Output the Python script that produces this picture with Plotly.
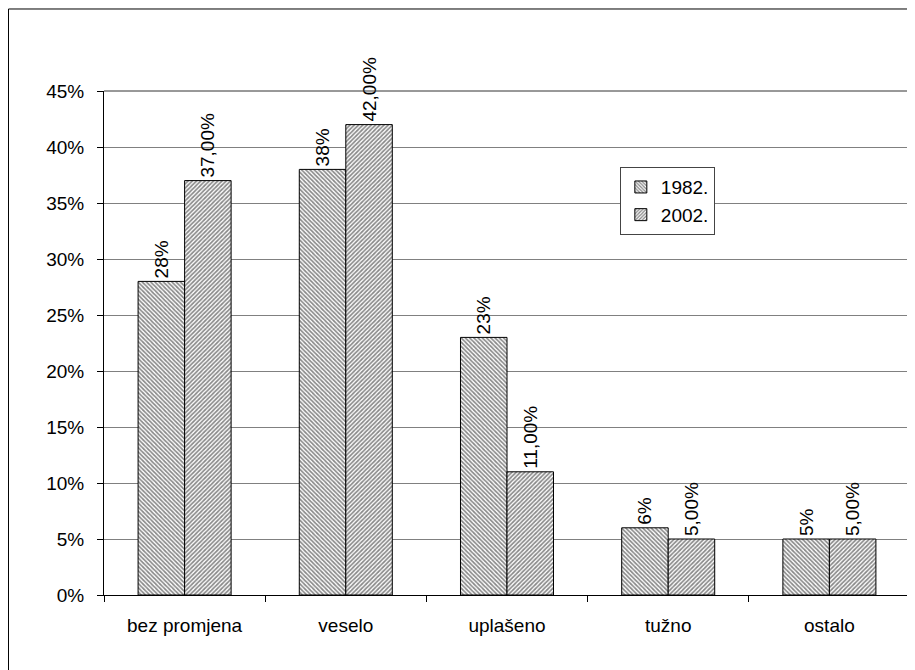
import plotly.graph_objects as go

categories = ["bez promjena", "veselo", "uplašeno", "tužno", "ostalo"]
series_names = ["1982.", "2002."]
values_1982 = [28, 38, 23, 6, 5]
values_2002 = [37, 42, 11, 5, 5]
labels_1982 = [f"{v}%" for v in values_1982]
labels_2002 = [f"{v:.2f}%".replace(".", ",") for v in values_2002]
y_ticks = list(range(0, 50, 5))
y_ticklabels = [f"{t}%" for t in y_ticks]

FONT = "Liberation Sans, Arial, sans-serif"
FS = 19

fig = go.Figure()
fig.add_trace(go.Bar(
    x=categories, y=values_1982, name=series_names[0],
    text=labels_1982, textposition="outside", textangle=-90,
    constraintext="none",
    textfont=dict(family=FONT, size=FS, color="black"),
    marker=dict(color="white", line=dict(color="black", width=1),
                pattern=dict(shape="\\", size=3, solidity=0.55,
                             fgcolor="#111111", bgcolor="white")),
    cliponaxis=False,
))
fig.add_trace(go.Bar(
    x=categories, y=values_2002, name=series_names[1],
    text=labels_2002, textposition="outside", textangle=-90,
    constraintext="none",
    textfont=dict(family=FONT, size=FS, color="black"),
    marker=dict(color="white", line=dict(color="black", width=1),
                pattern=dict(shape="/", size=3, solidity=0.55,
                             fgcolor="#111111", bgcolor="white")),
    cliponaxis=False,
))

fig.update_layout(
    width=907, height=662,
    margin=dict(l=96, r=5, t=83, b=75),
    paper_bgcolor="white", plot_bgcolor="white",
    font=dict(family=FONT, size=FS, color="black"),
    barmode="group", bargap=0.423, bargroupgap=0,
    showlegend=True,
    legend=dict(x=0.640, y=0.849, xanchor="left", yanchor="top",
                bordercolor="#444444", borderwidth=1, bgcolor="white",
                font=dict(family=FONT, size=FS, color="black"),
                itemwidth=30, tracegroupgap=2),
    xaxis=dict(showline=True, linecolor="black", linewidth=1,
               ticks="outside", ticklen=6, tickcolor="black",
               tickson="boundaries", showgrid=False,
               ticklabelstandoff=13,
               tickfont=dict(family=FONT, size=FS, color="black")),
    yaxis=dict(range=[0, 45], tickvals=y_ticks, ticktext=y_ticklabels,
               showline=True, linecolor="black", linewidth=1,
               ticks="outside", ticklen=6, tickcolor="black",
               showgrid=True, gridcolor="#808080", gridwidth=1,
               zeroline=False, ticklabelstandoff=9,
               tickfont=dict(family=FONT, size=FS, color="black")),
    shapes=[
        dict(type="rect", xref="paper", yref="paper",
             x0=-0.1185, x1=1.03, y0=-0.17, y1=1.1627,
             line=dict(color="black", width=1), layer="below"),
        dict(type="line", xref="paper", yref="paper",
             x0=1, x1=1, y0=0, y1=1,
             line=dict(color="#808080", width=1)),
        dict(type="line", xref="paper", yref="paper",
             x0=0, x1=1, y0=1, y1=1,
             line=dict(color="#333333", width=1)),
    ],
)

fig.write_html("out.html")
